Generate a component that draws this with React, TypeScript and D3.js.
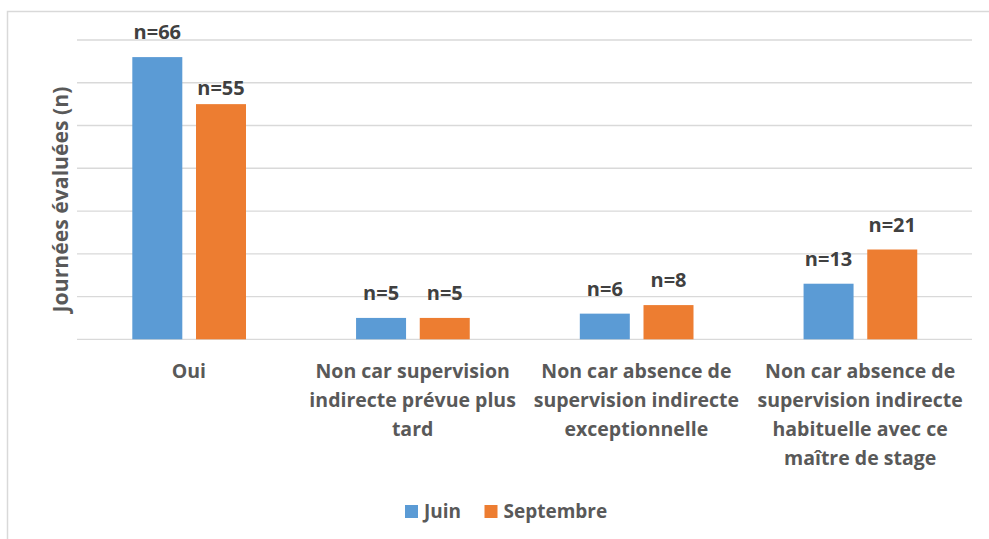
import React from "react";
import * as d3 from "d3";

const categories = [
  "Oui",
  "Non car supervision\nindirecte prévue plus\ntard",
  "Non car absence de\nsupervision indirecte\nexceptionnelle",
  "Non car absence de\nsupervision indirecte\nhabituelle avec ce\nmaître de stage",
];
const seriesNames = ["Juin", "Septembre"];
const juin = [66, 5, 6, 13];
const septembre = [55, 5, 8, 21];
const yTicks = [0, 10, 20, 30, 40, 50, 60, 70];
const colors = ["#5B9BD5", "#ED7D31"];

const W = 989;
const H = 539;
const left = 77;
const right = 972;
const top = 40;
const bottom = 339.3;
const font = "'Open Sans', sans-serif";

export default function App() {
  const values = [juin, septembre];
  const x = d3.scaleBand<string>().domain(categories).range([left, right]).padding(0);
  const cw = x.bandwidth();
  const inner = d3
    .scaleBand<string>()
    .domain(seriesNames)
    .range([cw * 0.2472, cw * 0.7553])
    .paddingInner(0.215)
    .paddingOuter(0);
  const y = d3.scaleLinear().domain([0, 70]).range([bottom, top]);

  return (
    <div style={{ position: "absolute", left: 0, top: 0 }}>
      <svg width={W} height={H} style={{ display: "block", background: "#fff" }}>
        <rect x={7.5} y={11.5} width={W + 20} height={H + 20} fill="#fff" stroke="#D9D9D9" strokeWidth={1.5} />
        {yTicks.map((t) => (
          <line key={t} x1={left} x2={right} y1={y(t)} y2={y(t)} stroke="#D9D9D9" strokeWidth={1.3} />
        ))}
        {seriesNames.map((s, si) =>
          categories.map((c, ci) => {
            const v = values[si][ci];
            const bx = (x(c) as number) + (inner(s) as number);
            const bw = inner.bandwidth();
            const lblOff = si === 1 && ci === 0 ? 9 : 18;
            return (
              <g key={s + ci}>
                <rect x={bx} y={y(v)} width={bw} height={y(0) - y(v)} fill={colors[si]} />
                <text
                  x={bx + bw / 2}
                  y={y(v) - lblOff}
                  textAnchor="middle"
                  fontFamily={font}
                  fontWeight={700}
                  fontSize={20}
                  fill="#404040"
                >
                  {"n=" + v}
                </text>
              </g>
            );
          })
        )}
        {categories.map((c) => {
          const cx = (x(c) as number) + cw / 2;
          return (
            <text key={c} textAnchor="middle" fontFamily={font} fontWeight={700} fontSize={19.5} fill="#595959">
              {c.split("\n").map((line, i) => (
                <tspan key={i} x={cx} y={378 + i * 29}>
                  {line}
                </tspan>
              ))}
            </text>
          );
        })}
        <text
          transform={`translate(67.5,199.5) rotate(-90)`}
          textAnchor="middle"
          fontFamily={font}
          fontWeight={700}
          fontSize={21.2}
          fill="#595959"
        >
          Journées évaluées (n)
        </text>
        {seriesNames.map((s, i) => {
          const lx = i === 0 ? 405 : 484.5;
          return (
            <g key={s}>
              <rect x={lx} y={505} width={13} height={13} fill={colors[i]} />
              <text x={lx + 19} y={518} fontFamily={font} fontWeight={700} fontSize={19} fill="#595959">
                {s}
              </text>
            </g>
          );
        })}
      </svg>
    </div>
  );
}
